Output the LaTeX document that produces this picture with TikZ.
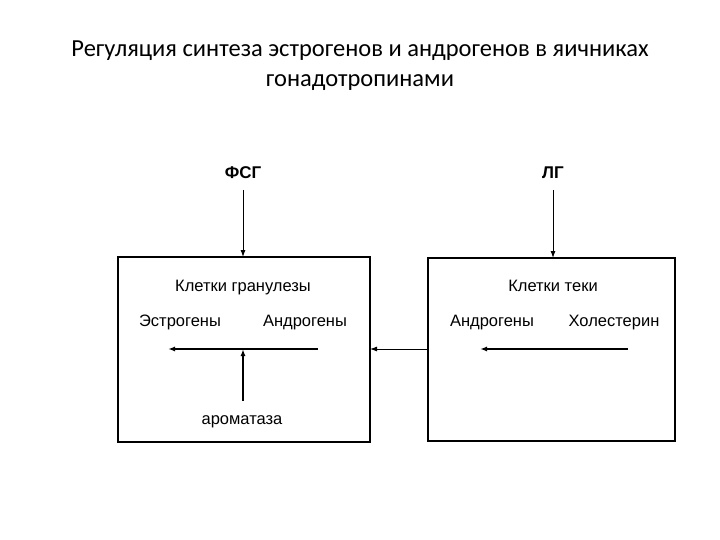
\documentclass[tikz,border=0pt]{standalone}
\usepackage{fontspec}
\setmainfont{Liberation Sans}
\newfontfamily\titlefont{Carlito}
\usetikzlibrary{arrows.meta}
\begin{document}
\begin{tikzpicture}[x=1pt,y=-1pt,
  cellbox/.style={draw,line width=1.3pt},
  lbl/.style={font=\fontsize{16.5}{19}\selectfont,inner sep=0pt,anchor=base},
  hormone/.style={font=\bfseries\fontsize{17}{19}\selectfont,inner sep=0pt,anchor=base},
  thinarr/.style={-{Latex[length=7pt,width=5pt]},line width=0.9pt},
  thickarr/.style={-{Latex[length=7pt,width=5pt]},line width=1.6pt}]
\useasboundingbox (0,0) rectangle (720,540);
\node[font=\titlefont\fontsize{24.5}{30}\selectfont,align=center] (title) at (360,66)
  {Регуляция синтеза эстрогенов и андрогенов в яичниках\\гонадотропинами};
\draw[cellbox] (118,257) rectangle (370,442);
\coordinate (L-top) at (243,257);
\coordinate (L-right) at (370,349);
\draw[cellbox] (428,258) rectangle (675,441);
\coordinate (R-top) at (553,258);
\coordinate (R-left) at (428,349);
\node[hormone] (fsg) at (243,179) {ФСГ};
\node[hormone] (lg) at (553,179) {ЛГ};
\draw[thinarr] (fsg.south) ++(0,11) coordinate (fsg-s) -- (L-top);
\draw[thinarr] (lg.south) ++(0,11) coordinate (lg-s) -- (R-top);
\node[lbl] (gran) at (243,291) {Клетки гранулезы};
\node[lbl] (estr) at (180,326) {Эстрогены};
\node[lbl] (andr1) at (305,326) {Андрогены};
\node[lbl] (arom) at (242,424) {ароматаза};
\coordinate (a1s) at (318,349);
\coordinate (a1e) at (168,349);
\coordinate (cross) at (243,349);
\draw[thickarr] (a1s) -- (a1e);
\draw[thickarr] (243,401) coordinate (arom-up) -- (cross);
\node[lbl] (teka) at (553,291) {Клетки теки};
\node[lbl] (andr2) at (492,326) {Андрогены};
\node[lbl] (chol) at (614,326) {Холестерин};
\coordinate (a2s) at (628,349);
\coordinate (a2e) at (480,349);
\draw[thickarr] (a2s) -- (a2e);
\draw[thinarr] (R-left) -- (L-right);
\end{tikzpicture}
\end{document}
